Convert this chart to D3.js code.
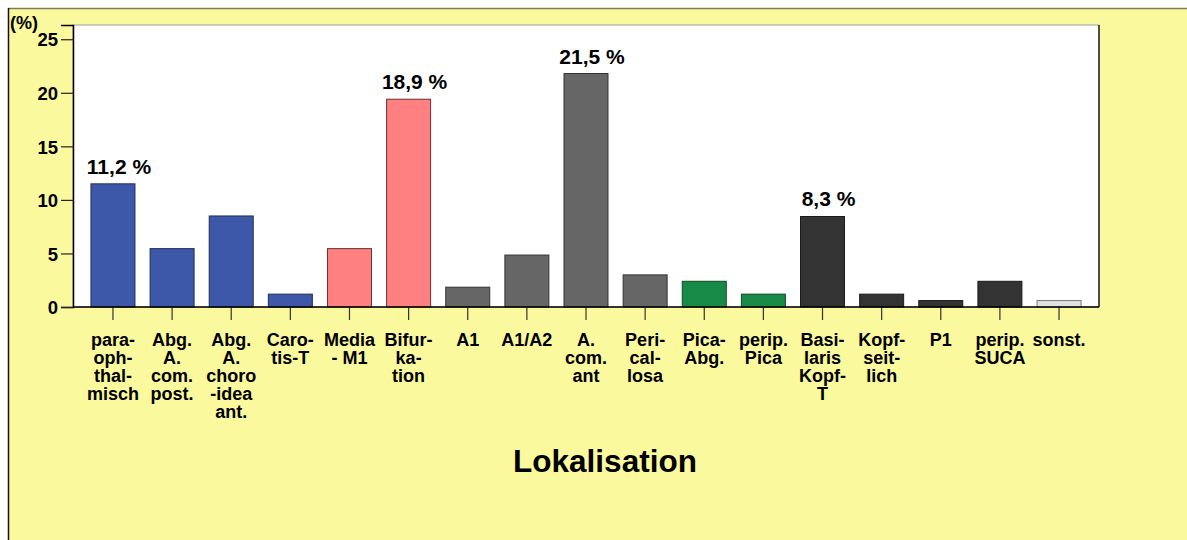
<!DOCTYPE html>
<html>
<head>
<meta charset="utf-8">
<script src="https://cdn.jsdelivr.net/npm/d3@7"></script>
<style>
  html, body { margin: 0; padding: 0; background: #ffffff; }
  svg { display: block; }
  text { font-family: "Liberation Sans", Arial, sans-serif; font-weight: bold; fill: #000; }
</style>
</head>
<body>
<svg id="chart" width="1187" height="540"></svg>
<script>
// ---- data ----
const categories = [
  "para-\noph-\nthal-\nmisch",
  "Abg.\nA.\ncom.\npost.",
  "Abg.\nA.\nchoro\n-idea\nant.",
  "Caro-\ntis-T",
  "Media\n- M1",
  "Bifur-\nka-\ntion",
  "A1",
  "A1/A2",
  "A.\ncom.\nant",
  "Peri-\ncal-\nlosa",
  "Pica-\nAbg.",
  "perip.\nPica",
  "Basi-\nlaris\nKopf-\nT",
  "Kopf-\nseit-\nlich",
  "P1",
  "perip.\nSUCA",
  "sonst."
];
const values = [11.5, 5.45, 8.5, 1.2, 5.45, 19.4, 1.85, 4.85, 21.8, 3.0, 2.4, 1.2, 8.45, 1.2, 0.6, 2.4, 0.6];
const groups = ["carotis", "carotis", "carotis", "carotis", "media", "media",
                "anterior", "anterior", "anterior", "anterior",
                "pica", "pica", "basilaris", "basilaris", "basilaris", "basilaris", "sonst"];
const valueLabels = ["11,2 %", "", "", "", "", "18,9 %", "", "", "21,5 %", "", "", "", "8,3 %", "", "", "", ""];
const yTicks = [0, 5, 10, 15, 20, 25];
const yUnit = "(%)";
const xTitle = "Lokalisation";

// ---- styles ----
const groupNames = ["carotis", "media", "anterior", "pica", "basilaris", "sonst"];
const groupColors = ["#3d58a8", "#ff8080", "#666666", "#178a47", "#333333", "#e2e2e2"];
const groupStrokes = ["#1e2d5a", "#6b3030", "#333333", "#0d4a26", "#1a1a1a", "#777777"];

const svg = d3.select("#chart");

// outer panel
svg.append("rect").attr("x", 8).attr("y", 8).attr("width", 1179).attr("height", 532).attr("fill", "#fbf99d");
svg.append("line").attr("x1", 8).attr("x2", 1187).attr("y1", 8.5).attr("y2", 8.5).attr("stroke", "#7d7d50").attr("stroke-width", 1.5);
svg.append("line").attr("x1", 8.5).attr("x2", 8.5).attr("y1", 8).attr("y2", 540).attr("stroke", "#111").attr("stroke-width", 1.5);

const plot = { left: 73, right: 1099, top: 25, bottom: 307 };

// plot background
svg.append("rect")
  .attr("x", plot.left).attr("y", plot.top)
  .attr("width", plot.right - plot.left).attr("height", plot.bottom - plot.top)
  .attr("fill", "#ffffff").attr("stroke", "#a0a0a0").attr("stroke-width", 1);
svg.append("line").attr("x1", plot.right).attr("x2", plot.right).attr("y1", plot.top).attr("y2", plot.bottom)
  .attr("stroke", "#222").attr("stroke-width", 1.5);

const y = d3.scaleLinear().domain([0, 26.33]).range([plot.bottom, plot.top]);
const x = d3.scaleBand().domain(d3.range(categories.length))
  .range([83.4, 1088.6]).paddingInner(0.256).paddingOuter(0.128);
const color = d3.scaleOrdinal().domain(groupNames).range(groupColors);
const strokeC = d3.scaleOrdinal().domain(groupNames).range(groupStrokes);

// bars
svg.append("g").selectAll("rect").data(values).join("rect")
  .attr("x", (d, i) => x(i))
  .attr("y", d => y(d))
  .attr("width", x.bandwidth())
  .attr("height", d => y(0) - y(d))
  .attr("fill", (d, i) => color(groups[i]))
  .attr("stroke", (d, i) => strokeC(groups[i]))
  .attr("stroke-width", 1);

// value labels
svg.append("g").selectAll("text").data(values).join("text")
  .attr("x", (d, i) => x(i) + x.bandwidth() / 2 + 6)
  .attr("y", d => y(d) - 10)
  .attr("text-anchor", "middle")
  .style("font-size", "21px")
  .text((d, i) => valueLabels[i]);

// y axis
const yAxis = d3.axisLeft(y).tickValues(yTicks).tickSize(12).tickPadding(3).tickFormat(d3.format("d"));
const gy = svg.append("g").attr("transform", `translate(${plot.left},0)`).call(yAxis);
gy.select(".domain").attr("stroke", "#000").attr("stroke-width", 1.5);
gy.selectAll(".tick line").attr("stroke", "#222").attr("stroke-width", 1.2);
gy.selectAll(".tick text").style("font-size", "18.5px").style("font-family", "'Liberation Sans', Arial, sans-serif").style("font-weight", "bold").attr("dy", "0.36em");

// x axis
const xAxis = d3.axisBottom(x).tickSize(13).tickFormat("");
const gx = svg.append("g").attr("transform", `translate(0,${plot.bottom})`).call(xAxis);
gx.select(".domain").remove();
gx.selectAll(".tick line").attr("stroke", "#333").attr("stroke-width", 1.2);
svg.append("line").attr("x1", plot.left).attr("x2", plot.right).attr("y1", plot.bottom).attr("y2", plot.bottom)
  .attr("stroke", "#000").attr("stroke-width", 1.5);

// category labels
const lab = svg.append("g").selectAll("text").data(categories).join("text")
  .attr("text-anchor", "middle")
  .style("font-size", "18px")
  .attr("transform", (d, i) => `translate(${x(i) + x.bandwidth() / 2},346)`);
lab.selectAll("tspan").data(d => d.split("\n")).join("tspan")
  .attr("x", 0).attr("y", (d, j) => j * 18)
  .text(d => d);

// unit
svg.append("text").attr("x", 10).attr("y", 29).style("font-size", "18px").text(yUnit);

// x title
svg.append("text").attr("x", 605).attr("y", 472).attr("text-anchor", "middle")
  .style("font-size", "31.5px").text(xTitle);
</script>
</body>
</html>
